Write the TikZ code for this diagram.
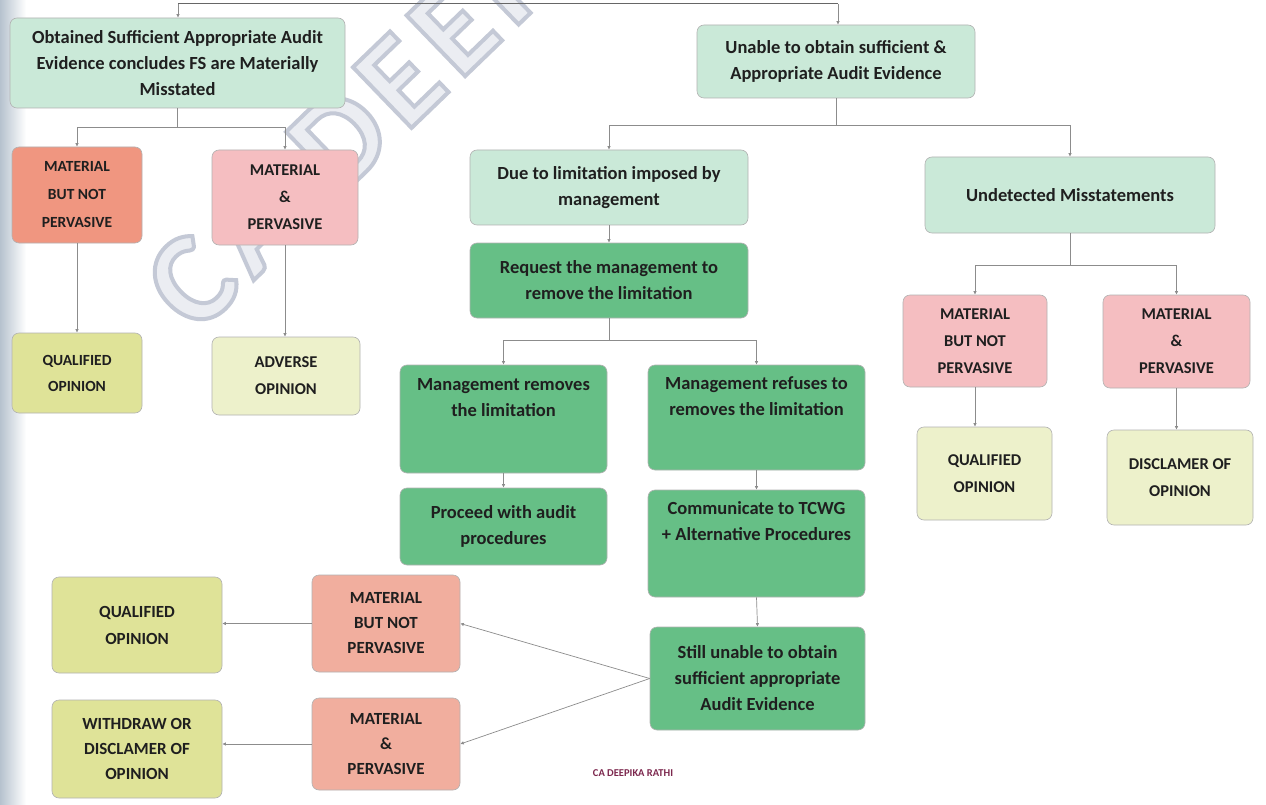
\documentclass[tikz,border=0pt]{standalone}
\usepackage{fontspec}
\setmainfont{Carlito}
\usetikzlibrary{arrows.meta}

\definecolor{mint}{RGB}{202,233,216}
\definecolor{leaf}{RGB}{102,191,134}
\definecolor{salmon}{RGB}{240,150,128}
\definecolor{rose}{RGB}{245,190,193}
\definecolor{peach}{RGB}{241,174,158}
\definecolor{olive}{RGB}{223,227,152}
\definecolor{cream}{RGB}{237,241,203}
\definecolor{wmline}{RGB}{196,201,213}
\definecolor{sign}{RGB}{125,40,78}
\definecolor{edge}{RGB}{182,194,206}

% outlined lettering for the watermark: grey stroke, pale fill
\newcommand{\hollowtext}[1]{%
  \special{pdf:literal direct 0.77 0.79 0.84 RG 0.92 0.93 0.95 rg 2 Tr 4 w}#1%
  \special{pdf:literal direct 0 Tr 0.4 w}}

\begin{document}
\begin{tikzpicture}[x=1pt,y=-1pt,
  box/.style={draw=black!30, line width=0.6pt, rounded corners=7pt, align=center,
    inner sep=4pt, text=black!88, font=\bfseries\fontsize{18.5}{26}\selectfont},
  caps/.style={box, font=\bfseries\fontsize{16.5}{27}\selectfont},
  lbl/.style={align=center, inner sep=0pt, text=black!88, font=\bfseries\fontsize{18.5}{26}\selectfont},
  ln/.style={draw=black!45, line width=0.7pt},
  lnk/.style={ln, -{Latex[length=3.5pt,width=3.5pt]}},
]
\useasboundingbox (0,0) rectangle (1266,805);
\fill[white] (0,0) rectangle (1266,805);
% shadow along the left page edge
\shade[left color=edge, right color=white] (0,0) rectangle (26,805);

% watermark behind the boxes
\node[anchor=base west, rotate=44, inner sep=0pt, text=wmline,
  font=\bfseries\fontsize{130}{130}\selectfont\addfontfeatures{LetterSpace=8.5}] (wm) at (196,336)
  {\hollowtext{CA DEEPIKA}};

% ---- left branch
\node[box, fill=mint, minimum width=335, minimum height=90] (obt) at (177.5,63)
  {Obtained Sufficient Appropriate Audit\\Evidence concludes FS are Materially\\Misstated};
\node[caps, fill=salmon, minimum width=130, minimum height=96, font=\bfseries\fontsize{15.5}{28}\selectfont] (mbnpA) at (77,195)
  {MATERIAL\\BUT NOT\\PERVASIVE};
\node[caps, fill=rose, minimum width=146, minimum height=95] (mpA) at (285,197.5)
  {MATERIAL\\\&\\PERVASIVE};
\node[caps, fill=olive, minimum width=130, minimum height=80, font=\bfseries\fontsize{15.5}{26}\selectfont] (qoA) at (77,373)
  {QUALIFIED\\OPINION};
\node[caps, fill=cream, minimum width=148, minimum height=78] (ao) at (286,376)
  {ADVERSE\\OPINION};

% ---- right branch
\node[box, fill=mint, minimum width=278, minimum height=73] (unable) at (836,61.5)
  {Unable to obtain sufficient \&\\Appropriate Audit Evidence};
\node[box, fill=mint, minimum width=278, minimum height=75] (due) at (609,187.5)
  {Due to limitation imposed by\\management};
\node[box, fill=mint, minimum width=290, minimum height=76] (undet) at (1070,195)
  {Undetected Misstatements};
\node[box, fill=leaf, minimum width=278, minimum height=75] (req) at (609,280.5)
  {Request the management to\\remove the limitation};

\node[box, fill=leaf, minimum width=207, minimum height=108] (mrem) at (503.5,419) {};
\node[lbl, anchor=north] (mremT) at ([yshift=-14]mrem.north)
  {Management removes\\the limitation};
\node[box, fill=leaf, minimum width=217, minimum height=105] (mref) at (756.5,417.5) {};
\node[lbl, anchor=north] (mrefT) at ([yshift=-12]mref.north)
  {Management refuses to\\removes the limitation};
\node[box, fill=leaf, minimum width=207, minimum height=77] (proc) at (503.5,526.5)
  {Proceed with audit\\procedures};
\node[box, fill=leaf, minimum width=217, minimum height=107] (comm) at (756.5,543.5) {};
\node[lbl, anchor=north] (commT) at ([yshift=-12]comm.north)
  {Communicate to TCWG\\+ Alternative Procedures};
\node[box, fill=leaf, minimum width=215, minimum height=103] (still) at (757.5,678.5)
  {Still unable to obtain\\sufficient appropriate\\Audit Evidence};

\node[caps, fill=peach, minimum width=148, minimum height=97, font=\bfseries\fontsize{17}{25}\selectfont] (mbnpB) at (386,623.5)
  {MATERIAL\\BUT NOT\\PERVASIVE};
\node[caps, fill=peach, minimum width=148, minimum height=92, font=\bfseries\fontsize{17}{25}\selectfont] (mpB) at (386,744)
  {MATERIAL\\\&\\PERVASIVE};
\node[caps, fill=olive, minimum width=170, minimum height=96, font=\bfseries\fontsize{17}{27}\selectfont] (qoB) at (137,625)
  {QUALIFIED\\OPINION};
\node[caps, fill=olive, minimum width=170, minimum height=98, font=\bfseries\fontsize{17}{25}\selectfont] (wd) at (137,749)
  {WITHDRAW OR\\DISCLAMER OF\\OPINION};

\node[caps, fill=rose, minimum width=144, minimum height=92] (mbnpC) at (975,341)
  {MATERIAL\\BUT NOT\\PERVASIVE};
\node[caps, fill=rose, minimum width=147, minimum height=93] (mpC) at (1176.5,341.5)
  {MATERIAL\\\&\\PERVASIVE};
\node[caps, fill=cream, minimum width=135, minimum height=93] (qoC) at (984.5,473.5)
  {QUALIFIED\\OPINION};
\node[caps, fill=cream, minimum width=146, minimum height=95] (dis) at (1180,477.5)
  {DISCLAMER OF\\OPINION};

\node[text=sign, font=\bfseries\fontsize{10.5}{12}\selectfont, inner sep=0pt] (author) at (633,773)
  {CA DEEPIKA RATHI};

% ---- connectors
\coordinate (topL) at (178,4);
\coordinate (topR) at (838,4);
\draw[ln, draw=black!60, line width=1pt] (topL) -- (topR);
\draw[lnk] (topL) -- (topL |- obt.north);
\draw[lnk] (topR) -- (topR |- unable.north);

\draw[lnk] (obt.south) -- ++(0,19) -| (mbnpA.north);
\draw[lnk] (obt.south) -- ++(0,19) -| (mpA.north);
\draw[lnk] (mbnpA.south) -- (mbnpA.south |- qoA.north);
\draw[lnk] (mpA.south) -- (mpA.south |- ao.north);

\draw[lnk] (unable.south) -- ++(0,27) -| (due.north);
\draw[lnk] (unable.south) -- ++(0,27) -| (undet.north);
\draw[lnk] (due.south) -- (req.north);
\draw[lnk] (req.south) -- ++(0,22) -| (mrem.north);
\draw[lnk] (req.south) -- ++(0,22) -| (mref.north);
\draw[lnk] (mrem.south) -- (proc.north);
\draw[lnk] (mref.south) -- (comm.north);
\draw[lnk] (comm.south) -- (still.north);

\draw[lnk] (still.west) -- (mbnpB.east);
\draw[lnk] (still.west) -- (mpB.east);
\draw[lnk] (mbnpB.west) -- (mbnpB.west -| qoB.east);
\draw[lnk] (mpB.west) -- (mpB.west -| wd.east);

\draw[lnk] (undet.south) -- ++(0,32) -| (mbnpC.north);
\draw[lnk] (undet.south) -- ++(0,32) -| (mpC.north);
\draw[lnk] (mbnpC.south) -- (mbnpC.south |- qoC.north);
\draw[lnk] (mpC.south) -- (mpC.south |- dis.north);
\end{tikzpicture}
\end{document}
